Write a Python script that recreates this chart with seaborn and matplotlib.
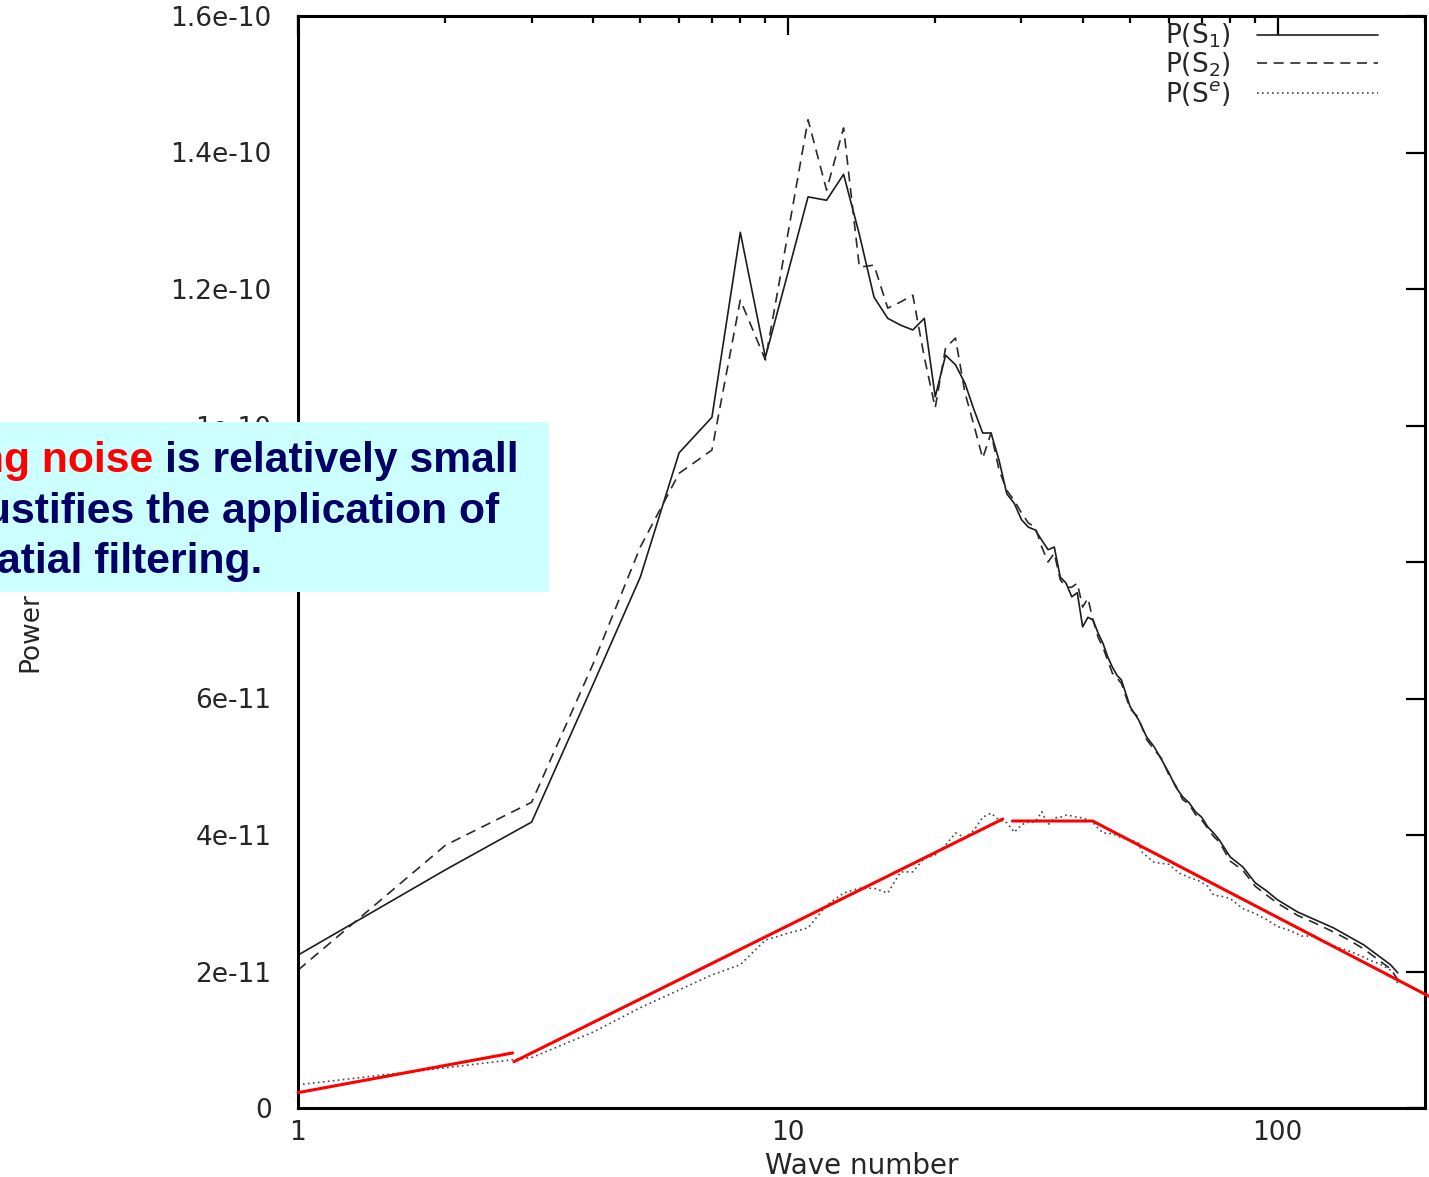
import numpy as np
import pandas as pd
import matplotlib
matplotlib.use("Agg")
import matplotlib.pyplot as plt
import seaborn as sns
from matplotlib.ticker import FixedLocator, FixedFormatter, LogLocator, NullFormatter
from matplotlib.patches import Rectangle

# ---------------- data (power in units of 1e-11) ----------------
s1_k = [1, 2, 3, 4, 5, 6, 7, 8, 9, 10, 11, 12, 13, 14, 15, 16, 17, 18, 19, 20,
        21, 22, 23, 24, 25, 26, 27, 28, 29, 30, 31, 32, 33, 34, 35, 36, 37, 38, 39, 40,
        41, 42, 43, 44, 45, 46, 47, 48, 50, 52, 54, 56, 58, 60, 62, 64, 66, 68, 70, 72,
        74, 76, 80, 85, 90, 95, 100, 110, 120, 130, 140, 150, 160, 170, 176]
s1_val = [2.24, 3.49, 4.19, 6.2, 7.78, 9.6, 10.12, 12.83, 11.0, 12.23, 13.35, 13.30, 13.68, 12.8, 11.88, 11.57, 11.47, 11.40, 11.57, 10.42,
          11.03, 10.89, 10.62, 10.23, 9.89, 9.89, 9.49, 9.0, 8.86, 8.62, 8.51, 8.47, 8.32, 8.18, 8.22, 7.78, 7.69, 7.49, 7.55, 7.05,
          7.19, 7.15, 6.96, 6.81, 6.61, 6.46, 6.34, 6.27, 5.88, 5.69, 5.44, 5.29, 5.10, 4.91, 4.70, 4.56, 4.47, 4.34, 4.26, 4.12,
          4.03, 3.93, 3.68, 3.53, 3.30, 3.18, 3.05, 2.87, 2.75, 2.64, 2.51, 2.39, 2.24, 2.10, 1.98]

s2_k = s1_k
s2_val = [2.02, 3.85, 4.48, 6.5, 8.22, 9.3, 9.64, 11.84, 10.96, 12.8, 14.48, 13.45, 14.36, 12.32, 12.35, 11.72, 11.81, 11.91, 11.0, 10.26,
          11.14, 11.28, 10.48, 10.0, 9.52, 9.89, 9.35, 9.05, 8.9, 8.72, 8.57, 8.51, 8.22, 8.0, 8.13, 7.74, 7.63, 7.63, 7.69, 7.34,
          7.47, 7.15, 6.9, 6.75, 6.56, 6.37, 6.30, 6.22, 5.85, 5.72, 5.40, 5.25, 5.12, 4.88, 4.72, 4.52, 4.45, 4.30, 4.22, 4.10,
          3.98, 3.90, 3.62, 3.48, 3.25, 3.12, 3.00, 2.82, 2.70, 2.58, 2.46, 2.33, 2.18, 2.04, 1.88]

se_k = [1, 2, 3, 4, 5, 6, 7, 8, 9, 10, 11, 12, 13, 14, 15, 16, 17, 18, 19, 20,
        21, 22, 23, 24, 25, 26, 27, 28, 29, 30, 31, 32, 33, 34, 35, 36, 37, 38, 39, 40,
        41, 42, 43, 44, 46, 48, 50, 52, 53, 56, 60, 63, 66, 69, 72, 74, 77, 80, 85, 90,
        95, 100, 106, 112, 118, 125, 132, 140, 148, 155, 162, 170, 174, 176]
se_val = [0.34, 0.59, 0.74, 1.11, 1.47, 1.73, 1.95, 2.10, 2.46, 2.56, 2.64, 2.97, 3.15, 3.22, 3.22, 3.15, 3.46, 3.46, 3.66, 3.71,
          3.85, 4.03, 3.96, 4.07, 4.26, 4.32, 4.22, 4.18, 4.04, 4.15, 4.19, 4.19, 4.34, 4.15, 4.25, 4.26, 4.29, 4.28, 4.26, 4.25,
          4.22, 4.18, 4.10, 4.03, 4.02, 3.96, 3.93, 3.88, 3.74, 3.60, 3.57, 3.44, 3.38, 3.33, 3.25, 3.12, 3.10, 3.07, 2.92, 2.85,
          2.76, 2.66, 2.60, 2.52, 2.52, 2.42, 2.36, 2.30, 2.23, 2.16, 2.11, 2.02, 1.95, 1.80]

# red piecewise fits
fit1_k = [1.0, 2.743]
fit1_val = [0.225, 0.806]
fit2_k = [2.76, 27.47]
fit2_val = [0.678, 4.234]
fit3_k = [28.75, 41.92, 203.3]
fit3_val = [4.205, 4.205, 1.641]

scale = 1e-11
xticks = [1, 10, 100]
xtick_labels = ["1", "10", "100"]
yticks = [0, 2e-11, 4e-11, 6e-11, 8e-11, 1e-10, 1.2e-10, 1.4e-10, 1.6e-10]
ytick_labels = ["0", "2e-11", "4e-11", "6e-11", "8e-11", "1e-10", "1.2e-10", "1.4e-10", "1.6e-10"]
legend_labels = [r"P(S$_1$)", r"P(S$_2$)", r"P(S$^e$)"]
note_red = "ng noise"
note_line1 = "is relatively small"
note_line2 = "ustifies the application of"
note_line3 = "atial filtering."

# ---------------- figure ----------------
sns.set_style("white")
plt.rcParams["font.family"] = ["DejaVu Sans"]

W, H = 1429, 1177
fig = plt.figure(figsize=(W / 100, H / 100), dpi=100)
ax = fig.add_axes([298 / W, 1 - 1108 / H, (1425 - 298) / W, (1108 - 16) / H])

df1 = pd.DataFrame({"k": s1_k, "p": np.array(s1_val) * scale})
df2 = pd.DataFrame({"k": s2_k, "p": np.array(s2_val) * scale})
dfe = pd.DataFrame({"k": se_k, "p": np.array(se_val) * scale})

sns.lineplot(data=df1, x="k", y="p", ax=ax, color="#1c1c1c", lw=1.2,
             estimator=None, sort=False, label=legend_labels[0])
sns.lineplot(data=df2, x="k", y="p", ax=ax, color="#2a2a2a", lw=1.2,
             linestyle=(0, (6, 4)), estimator=None, sort=False, label=legend_labels[1])
sns.lineplot(data=dfe, x="k", y="p", ax=ax, color="#444444", lw=1.2,
             linestyle=(0, (1, 2)), estimator=None, sort=False, label=legend_labels[2])

for fk, fv in [(fit1_k, fit1_val), (fit2_k, fit2_val), (fit3_k, fit3_val)]:
    sns.lineplot(x=fk, y=np.array(fv) * scale, ax=ax, color="#ff0000", lw=2.2,
                 estimator=None, sort=False, clip_on=False, zorder=5, legend=False)

ax.set_xscale("log")
ax.set_xlim(1, 200)
ax.set_ylim(0, 1.6e-10)
ax.xaxis.set_major_locator(FixedLocator(xticks))
ax.xaxis.set_major_formatter(FixedFormatter(xtick_labels))
ax.xaxis.set_minor_locator(LogLocator(base=10, subs=np.arange(2, 10)))
ax.xaxis.set_minor_formatter(NullFormatter())
ax.yaxis.set_major_locator(FixedLocator(yticks))
ax.yaxis.set_major_formatter(FixedFormatter(ytick_labels))

ax.tick_params(which="both", direction="in", top=True, right=True, color="black")
ax.tick_params(which="major", length=14, width=1.6, labelsize=19)
ax.tick_params(which="minor", length=5, width=1.6)
ax.tick_params(axis="y", pad=19)
ax.tick_params(axis="x", pad=9)
for sp in ax.spines.values():
    sp.set_linewidth(2.2)
    sp.set_color("black")

ax.set_xlabel("Wave number", fontsize=20)
ax.xaxis.set_label_coords(0.5005, -0.04)
ax.set_ylabel("Power", fontsize=19,
              family=["Liberation Sans Narrow", "DejaVu Sans Condensed", "DejaVu Sans"])
ax.yaxis.set_label_coords(-0.2378, 0.436)
ax.yaxis.label.set_verticalalignment("center")

handles, labels = ax.get_legend_handles_labels()
leg = ax.legend(handles[:3], labels[:3], loc="upper right",
                bbox_to_anchor=(1378 / W, 1 - 22 / H), bbox_transform=fig.transFigure,
                frameon=False, markerfirst=False, fontsize=19, handlelength=4.6,
                handletextpad=1.0, labelspacing=0.0, borderpad=0, borderaxespad=0)

# ---------------- overlay note box ----------------
ov = fig.add_axes([0, 0, 1, 1], zorder=10)
ov.set_xlim(0, W)
ov.set_ylim(H, 0)
ov.axis("off")
ov.patch.set_alpha(0)
ov.add_patch(Rectangle((0, 422), 549, 170, facecolor="#ccffff", edgecolor="none"))
navy = "#000066"
fkw = dict(family=["Liberation Sans", "DejaVu Sans"], weight="bold", fontsize=30.7)
t1 = ov.text(-22, 471.7, note_red, color="#ff0000", va="baseline", ha="left", **fkw)
ov.annotate(note_line1, xy=(1, 0), xycoords=t1, xytext=(8.5, 0),
            textcoords="offset points", va="bottom", ha="left", color=navy, **fkw)
ov.text(-15, 523, note_line2, color=navy, va="baseline", ha="left", **fkw)
ov.text(-3, 573, note_line3, color=navy, va="baseline", ha="left", **fkw)

fig.savefig("out.png", dpi=100)
